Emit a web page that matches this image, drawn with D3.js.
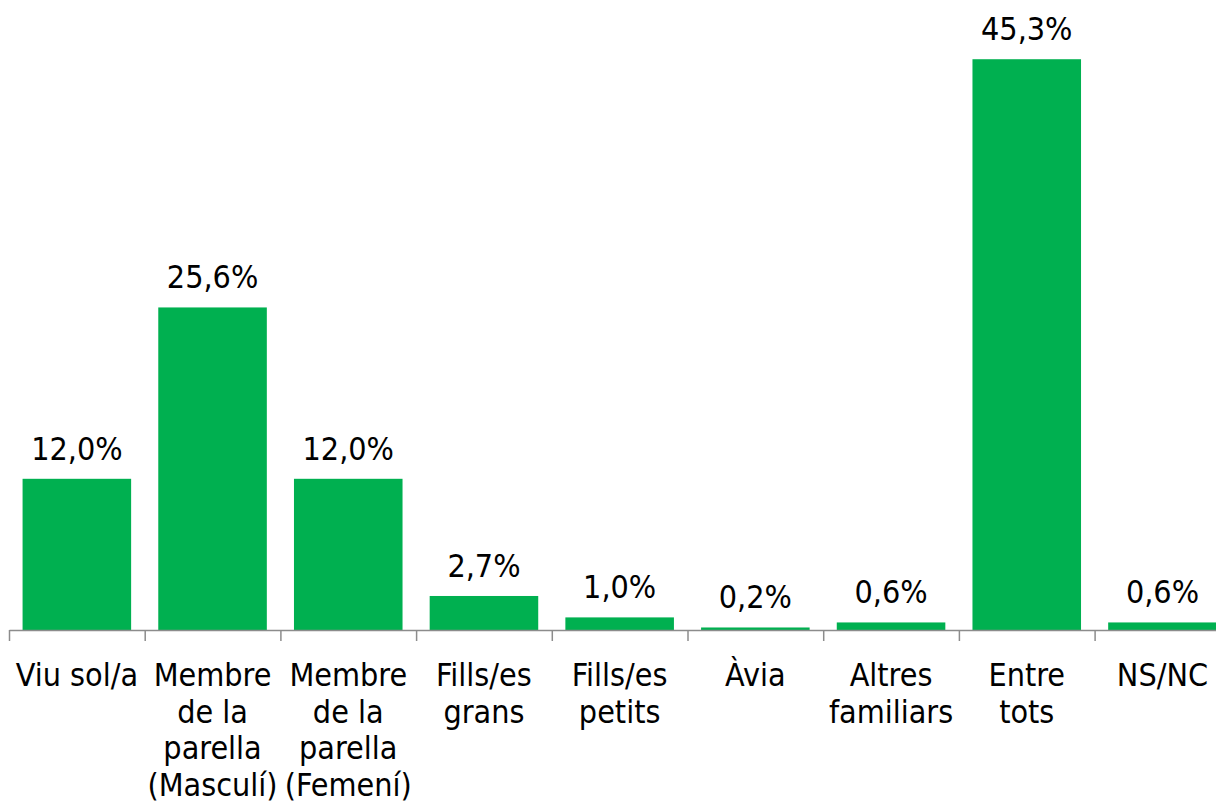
<!DOCTYPE html>
<html>
<head>
<meta charset="utf-8">
<script src="https://cdn.jsdelivr.net/npm/d3@7"></script>
<style>
  body { margin: 0; background: #fff; }
  svg { display: block; }
  text { font-family: "DejaVu Sans Condensed", "DejaVu Sans", sans-serif; fill: #000; }
</style>
</head>
<body>
<svg id="chart" width="1216" height="806"></svg>
<script>
var categories = ["Viu sol/a", "Membre\nde la\nparella\n(Masculí)", "Membre\nde la\nparella\n(Femení)",
  "Fills/es\ngrans", "Fills/es\npetits", "Àvia", "Altres\nfamiliars", "Entre\ntots", "NS/NC"]
var values = [12.0, 25.6, 12.0, 2.7, 1.0, 0.2, 0.6, 45.3, 0.6]
var valueLabels = ["12,0%", "25,6%", "12,0%", "2,7%", "1,0%", "0,2%", "0,6%", "45,3%", "0,6%"]

var svg = d3.select("#chart")
var left = 9
var step = 135.7
var baseY = 630

var xScale = d3.scaleBand().domain(categories)
    .range([left, left + step * categories.length])
    .paddingInner(0.2).paddingOuter(0.1)
var yScale = d3.scaleLinear().domain([0, 50]).range([baseY, 0])

svg.selectAll(".bar")
    .data(values)
    .enter()
    .append("rect")
    .attr("class", "bar")
    .attr("x", function(d, i){ return xScale(categories[i]) })
    .attr("width", xScale.bandwidth())
    .attr("y", function(d){ return yScale(d) })
    .attr("height", function(d){ return baseY - yScale(d) })
    .attr("fill", "#00b050")

svg.selectAll(".vlabel")
    .data(values)
    .enter()
    .append("text")
    .attr("class", "vlabel")
    .attr("x", function(d, i){ return xScale(categories[i]) + xScale.bandwidth() / 2 })
    .attr("y", function(d){ return yScale(d) - 19 })
    .attr("text-anchor", "middle")
    .attr("font-size", "32px")
    .text(function(d, i){ return valueLabels[i] })

// axis with ticks at category boundaries
var idxScale = d3.scaleLinear().domain([0, categories.length]).range([left, left + step * categories.length])
var axis = d3.axisBottom(idxScale).tickValues(d3.range(categories.length)).tickSize(11).tickFormat("").tickSizeOuter(0)
var g = svg.append("g").attr("transform", "translate(0," + baseY + ")").call(axis)
g.selectAll("path, line").attr("stroke", "#8c8c8c").attr("stroke-width", 1.5)

// category labels
var labels = svg.selectAll(".clabel")
    .data(categories)
    .enter()
    .append("text")
    .attr("class", "clabel")
    .attr("text-anchor", "middle")
    .attr("font-size", "32px")
    .attr("transform", function(d){ return "translate(" + (xScale(d) + xScale.bandwidth() / 2) + ",686)" })
labels.selectAll("tspan")
    .data(function(d){ return d.split("\n") })
    .enter()
    .append("tspan")
    .attr("x", 0)
    .attr("y", function(d, i){ return i * 36.7 })
    .text(function(d){ return d })
</script>
</body>
</html>
